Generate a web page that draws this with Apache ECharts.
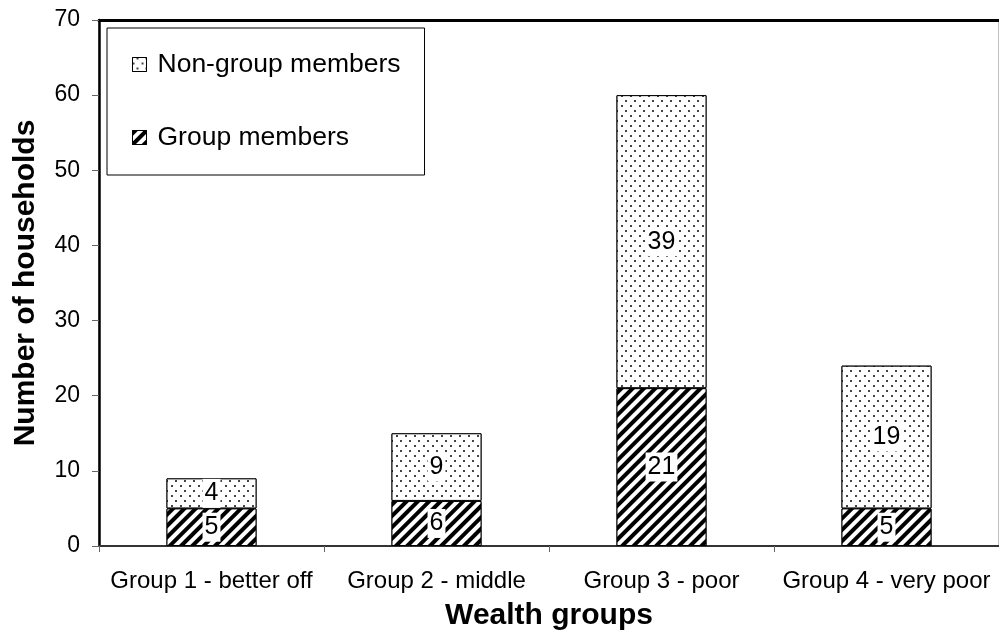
<!DOCTYPE html>
<html><head><meta charset="utf-8">
<script src="https://cdn.jsdelivr.net/npm/echarts@6/dist/echarts.min.js"></script>
<style>html,body{margin:0;padding:0;background:#fff}#c{width:999px;height:644px}</style>
</head><body><div id="c"></div>
<script>
const categories = ['Group 1 - better off', 'Group 2 - middle', 'Group 3 - poor', 'Group 4 - very poor'];
const groupMembers = [5, 6, 21, 5];
const nonGroupMembers = [4, 9, 39, 19];
const yTicks = [0, 10, 20, 30, 40, 50, 60, 70];

const FONT = 'Liberation Sans, Arial, sans-serif';
const chart = echarts.init(document.getElementById('c'), null, {renderer: 'canvas'});
const labelCfg = {
  show: true, position: 'inside', color: '#000', fontFamily: FONT, fontSize: 25,
  backgroundColor: '#fff', padding: [2, 2, 1, 2], lineHeight: 26
};
const stripe = {
  symbol: 'rect', symbolSize: 1, color: '#000', backgroundColor: '#fff',
  dashArrayX: [1, 0], dashArrayY: [3.2, 3.4], rotation: -Math.PI / 4
};
const dots = {
  symbol: 'rect', symbolSize: 1, color: '#444', backgroundColor: '#fff',
  dashArrayX: [[1.6, 6.1], [0, 3.85, 1.6, 2.25]], dashArrayY: [1.6, 2.25], rotation: 0
};
chart.setOption({
  animation: false,
  backgroundColor: '#fff',
  grid: {left: 99, right: 0, top: 20, bottom: 98, show: true, borderColor: '#808080', borderWidth: 1},
  legend: {
    orient: 'vertical', left: 107, top: 28,
    data: ['Non-group members', 'Group members'],
    icon: 'rect', itemWidth: 14, itemHeight: 14, itemGap: 46,
    padding: [23, 24, 24, 25],
    borderColor: '#000', borderWidth: 1, backgroundColor: '#fff',
    textStyle: {fontFamily: FONT, fontSize: 26.5, color: '#000', padding: [0, 0, 0, 6]},
    itemStyle: {borderColor: '#000', borderWidth: 1}
  },
  xAxis: [{
    type: 'category', data: categories,
    axisLine: {lineStyle: {color: '#333', width: 2}},
    axisTick: {show: true, interval: 0, length: 6, lineStyle: {color: '#666'}},
    axisLabel: {interval: 0, hideOverlap: false, fontFamily: FONT, fontSize: 24, color: '#000', margin: 23},
    name: 'Wealth groups', nameLocation: 'middle', nameGap: 55,
    nameTextStyle: {fontFamily: FONT, fontSize: 30, fontWeight: 'bold', color: '#000'}
  }, {
    type: 'category', data: categories, position: 'top',
    axisLine: {lineStyle: {color: '#000', width: 3}},
    axisTick: {show: false}, axisLabel: {show: false}
  }],
  yAxis: {
    type: 'value', min: yTicks[0], max: yTicks[yTicks.length - 1], interval: 10,
    axisLine: {show: true, lineStyle: {color: '#000', width: 2.5}},
    axisTick: {show: true, length: 7, lineStyle: {color: '#666'}},
    splitLine: {show: false},
    axisLabel: {fontFamily: FONT, fontSize: 23, color: '#000', margin: 19},
    name: 'Number of households', nameLocation: 'middle', nameGap: 58,
    nameTextStyle: {fontFamily: FONT, fontSize: 30, fontWeight: 'bold', color: '#000'}
  },
  series: [{
    name: 'Group members', type: 'bar', stack: 'a', data: groupMembers, barWidth: 90,
    itemStyle: {color: '#fff', borderColor: '#000', borderWidth: 1, decal: stripe},
    label: labelCfg
  }, {
    name: 'Non-group members', type: 'bar', stack: 'a', data: nonGroupMembers, barWidth: 90,
    itemStyle: {color: '#fff', borderColor: '#000', borderWidth: 1, decal: dots},
    label: labelCfg
  }]
});
</script></body></html>
